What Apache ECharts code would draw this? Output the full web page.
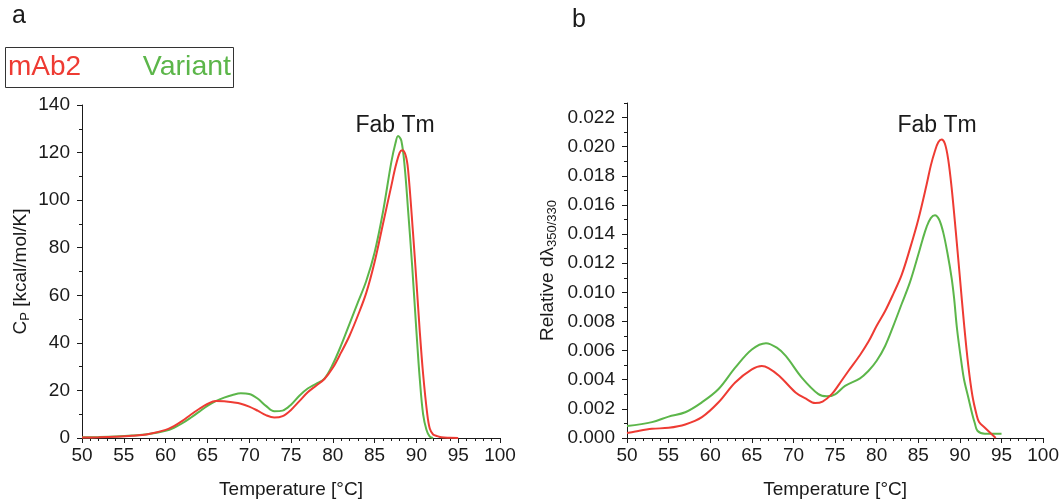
<!DOCTYPE html>
<html>
<head>
<meta charset="utf-8">
<script src="https://cdn.jsdelivr.net/npm/echarts@6/dist/echarts.min.js"></script>
<style>html,body{margin:0;padding:0;background:#fff;}#c{width:1062px;height:504px;}</style>
</head>
<body>
<div id="c"></div>
<script>
// ---- Panel a: DSC (Cp, kcal/mol/K) ----
const dscTempMab2 = [50, 52, 54, 56, 58, 60, 61, 62, 63, 64, 65, 66, 67, 68, 69, 70, 71, 72, 73, 74, 75, 76, 77, 78, 79, 80, 81, 82, 83, 84, 85, 86, 87, 87.5, 88, 88.3, 88.7, 89, 89.6, 90, 90.4, 90.8, 91.3, 91.6, 92, 92.5, 93, 94, 95];
const dscCpMab2   = [0.2, 0.3, 0.5, 0.9, 1.7, 3.4, 5.0, 7.2, 9.8, 12.2, 14.3, 15.6, 15.4, 15.0, 14.4, 13.2, 11.5, 9.6, 8.6, 9.2, 11.8, 15.5, 19.2, 22.0, 24.8, 29.5, 36.0, 43.0, 51.5, 61.0, 74.0, 90.0, 106, 114, 120, 121, 119, 113, 86, 66, 45, 27, 10, 4, 1.5, 0.8, 0.3, 0.1, 0];
const dscTempVariant = [50, 52, 54, 56, 58, 60, 61, 62, 63, 64, 65, 66, 67, 68, 69, 70, 71, 72, 73, 74, 75, 76, 77, 78, 79, 80, 81, 82, 83, 84, 85, 86, 87, 87.5, 87.8, 88.2, 88.6, 89, 89.5, 90, 90.4, 90.8, 91.2, 91.6, 92];
const dscCpVariant   = [0.3, 0.4, 0.6, 1.0, 1.7, 3.0, 4.3, 6.2, 8.5, 11.0, 13.5, 15.5, 17.0, 18.1, 18.8, 18.5, 16.6, 13.5, 11.2, 11.5, 14.0, 17.8, 20.8, 22.8, 25.0, 31.0, 39.0, 48.0, 57.0, 66.0, 78.0, 95.0, 116, 124, 127, 125, 114, 96, 72, 45, 25, 10, 3.5, 0.6, 0];

// ---- Panel b: nanoDSF (relative dλ 350/330) ----
const dsfTempMab2 = [50, 51, 53, 55, 57, 59, 61, 63, 65, 66.2, 67, 68.3, 70.25, 71.5, 72.6, 73.5, 74.6, 75.5, 76.6, 78, 79, 80, 81, 82, 83, 84, 85, 86, 86.5, 87, 87.4, 87.8, 88.2, 88.6, 89, 89.5, 90, 90.5, 91, 91.5, 92, 92.3, 93, 94.3];
const dsfValMab2  = [0.00034, 0.00045, 0.00063, 0.0007, 0.00093, 0.00143, 0.00245, 0.00381, 0.00471, 0.00494, 0.0048, 0.00426, 0.00313, 0.0027, 0.0024, 0.0025, 0.00301, 0.0037, 0.0046, 0.0057, 0.0066, 0.0077, 0.0087, 0.0099, 0.0112, 0.0130, 0.0150, 0.0174, 0.0187, 0.0197, 0.0203, 0.0205, 0.0202, 0.0191, 0.0172, 0.0142, 0.0110, 0.0078, 0.0050, 0.0029, 0.0016, 0.0011, 0.0007, 0];
const dsfTempVariant = [50, 53, 55, 57, 59, 61, 63, 65, 66.7, 68, 69.1, 71, 73, 74, 75, 76.2, 78, 79, 80, 81, 82, 83, 84, 85, 85.5, 86, 86.5, 87, 87.5, 88, 88.5, 89, 89.3, 89.65, 90.2, 90.5, 91, 91.5, 91.8, 92.1, 93, 95];
const dsfValVariant  = [0.00082, 0.00109, 0.00147, 0.00177, 0.00245, 0.00336, 0.00483, 0.00608, 0.00651, 0.0062, 0.00562, 0.00415, 0.00301, 0.00286, 0.0030, 0.00358, 0.0041, 0.0046, 0.0053, 0.0063, 0.0077, 0.0092, 0.0107, 0.0126, 0.0136, 0.0145, 0.0151, 0.0153, 0.0150, 0.0141, 0.0127, 0.0110, 0.0096, 0.0075, 0.0051, 0.0040, 0.0028, 0.0016, 0.0010, 0.0005, 0.0003, 0.0003];

const yTicksRight = [0, 0.002, 0.004, 0.006, 0.008, 0.010, 0.012, 0.014, 0.016, 0.018, 0.020, 0.022];

const RED = '#ee3b33';
const GREEN = '#5cb64a';
const INK = '#1a1a1a';
const FONT = '"Liberation Sans", Arial, sans-serif';

function pairs(xs, ys) { return xs.map((x, i) => [x, ys[i]]); }

const chart = echarts.init(document.getElementById('c'), null, { renderer: 'canvas' });

function xAxisCfg(gridIndex) {
  return {
    gridIndex, type: 'value', min: 50, max: 100, interval: 5,
    name: 'Temperature [°C]', nameLocation: 'middle', nameGap: 42,
    nameTextStyle: { fontFamily: FONT, fontSize: 19, color: INK },
    axisLine: { show: true, onZero: false, lineStyle: { color: INK, width: 1 } },
    axisTick: { show: true, inside: false, length: 5, lineStyle: { color: INK } },
    minorTick: { show: true, splitNumber: 5, length: 3, lineStyle: { color: INK } },
    axisLabel: { fontFamily: FONT, fontSize: 19, color: INK, margin: 8 },
    splitLine: { show: false }, minorSplitLine: { show: false }
  };
}

const option = {
  animation: false,
  backgroundColor: '#fff',
  grid: [
    { left: 82, top: 105, width: 418, height: 336 },
    { left: 627, top: 103, width: 419, height: 338 }
  ],
  xAxis: [xAxisCfg(0), xAxisCfg(1)],
  yAxis: [
    {
      gridIndex: 0, type: 'value', min: 0, max: 140, interval: 20,
      name: 'C{sub|P} [kcal/mol/K]', nameLocation: 'middle', nameGap: 50,
      nameTextStyle: { fontFamily: FONT, fontSize: 19, color: INK,
        rich: { sub: { fontFamily: FONT, fontSize: 13, color: INK, padding: [9, 0, 0, 0] } } },
      axisLine: { show: true, onZero: false, lineStyle: { color: INK, width: 1 } },
      axisTick: { show: true, length: 5, lineStyle: { color: INK } },
      minorTick: { show: true, splitNumber: 2, length: 3, lineStyle: { color: INK } },
      axisLabel: { fontFamily: FONT, fontSize: 19, color: INK, margin: 12 },
      splitLine: { show: false }, minorSplitLine: { show: false }
    },
    {
      gridIndex: 1, type: 'value', min: 0, max: 0.023, interval: 0.001,
      name: 'Relative dλ{sub|350/330}', nameLocation: 'middle', nameGap: 68,
      nameTextStyle: { fontFamily: FONT, fontSize: 19, color: INK,
        rich: { sub: { fontFamily: FONT, fontSize: 13, color: INK, padding: [9, 0, 0, 0] } } },
      axisLine: { show: true, onZero: false, lineStyle: { color: INK, width: 1 } },
      axisTick: { show: true, length: 5, customValues: yTicksRight, lineStyle: { color: INK } },
      axisLabel: { fontFamily: FONT, fontSize: 19, color: INK, margin: 12,
        customValues: yTicksRight, formatter: v => v.toFixed(3) },
      splitLine: { show: false }, minorSplitLine: { show: false }
    },
    {
      gridIndex: 1, type: 'value', min: 0, max: 0.023, interval: 0.001, position: 'left',
      axisLine: { show: false },
      axisTick: { show: true, length: 3, lineStyle: { color: INK } },
      axisLabel: { show: false },
      splitLine: { show: false }
    }
  ],
  graphic: [
    { type: 'text', left: 12, top: 4, style: { text: 'a', font: '25px ' + FONT, fill: INK } },
    { type: 'text', left: 572, top: 8, style: { text: 'b', font: '25px ' + FONT, fill: INK } },
    { type: 'rect', shape: { x: 5.5, y: 47.5, width: 228, height: 40 },
      style: { fill: 'none', stroke: '#333', lineWidth: 1 } },
    { type: 'text', x: 8, y: 67.5, style: { text: 'mAb2', font: '28px ' + FONT, fill: RED, verticalAlign: 'middle', align: 'left' } },
    { type: 'text', x: 231, y: 67.5, style: { text: 'Variant', font: '28.5px ' + FONT, fill: GREEN, verticalAlign: 'middle', align: 'right' } },
    { type: 'text', x: 395, y: 126, style: { text: 'Fab Tm', font: '23px ' + FONT, fill: INK, verticalAlign: 'middle', align: 'center' } },
    { type: 'text', x: 937, y: 126, style: { text: 'Fab Tm', font: '23px ' + FONT, fill: INK, verticalAlign: 'middle', align: 'center' } }
  ],
  series: [
    { name: 'Variant', type: 'line', xAxisIndex: 0, yAxisIndex: 0, data: pairs(dscTempVariant, dscCpVariant),
      showSymbol: false, smooth: 0.35, lineStyle: { color: GREEN, width: 2 }, itemStyle: { color: GREEN } },
    { name: 'mAb2', type: 'line', xAxisIndex: 0, yAxisIndex: 0, data: pairs(dscTempMab2, dscCpMab2),
      showSymbol: false, smooth: 0.35, lineStyle: { color: RED, width: 2 }, itemStyle: { color: RED } },
    { name: 'Variant', type: 'line', xAxisIndex: 1, yAxisIndex: 1, data: pairs(dsfTempVariant, dsfValVariant),
      showSymbol: false, smooth: 0.35, lineStyle: { color: GREEN, width: 2 }, itemStyle: { color: GREEN } },
    { name: 'mAb2', type: 'line', xAxisIndex: 1, yAxisIndex: 1, data: pairs(dsfTempMab2, dsfValMab2),
      showSymbol: false, smooth: 0.35, lineStyle: { color: RED, width: 2 }, itemStyle: { color: RED } }
  ]
};
chart.setOption(option);
</script>
</body>
</html>
